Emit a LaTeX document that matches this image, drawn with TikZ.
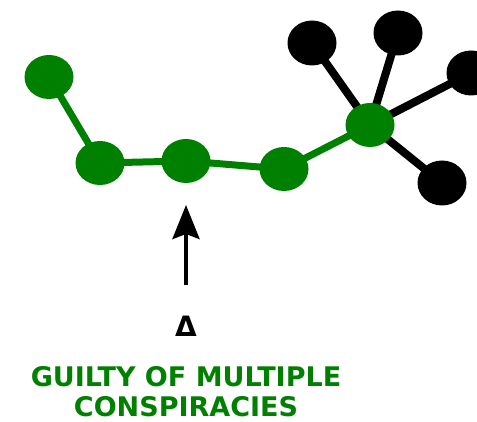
\documentclass[tikz,border=0pt]{standalone}
\usepackage{fontspec}
\setmainfont{DejaVu Sans}
\usetikzlibrary{shapes.geometric, arrows.meta, backgrounds}
\definecolor{netgreen}{RGB}{0,128,0}

\begin{document}
\begin{tikzpicture}[x=1pt, y=-1pt,
		member/.style={ellipse, fill=netgreen, minimum width=49pt, minimum height=44pt, inner sep=0pt},
		outsider/.style={ellipse, fill=black, minimum width=49pt, minimum height=45pt, inner sep=0pt},
		gedge/.style={draw=netgreen, line width=7pt},
		bedge/.style={draw=black, line width=8pt},
		caption/.style={text=netgreen, font=\bfseries\fontsize{27}{30}\selectfont, align=center, inner sep=0pt},
		>=Stealth
		]
		\useasboundingbox (0,0) rectangle (477,422);
		
		% chain of members
		\foreach \x/\y [count=\i from 1] in {49/77, 100/163, 186/161, 284/169, 370/125}
		\node[member] (g\i) at (\x,\y) {};
		
		% outsiders around the hub
		\foreach \x/\y [count=\i from 1] in {312/43, 398/33, 471/73, 442/183}
		\node[outsider] (b\i) at (\x,\y) {};
		
		\begin{scope}[on background layer]
			\foreach \i in {1,...,4} {
				\pgfmathtruncatemacro{\next}{add(\i,1)}
				\draw[gedge] (g\i.center) -- (g\next.center);
			}
			\foreach \i in {1,...,4}
			\draw[bedge] (g5.center) -- (b\i.center);
		\end{scope}
		
		\coordinate (tail) at (186, 285);
		\coordinate (head) at (186, 205);
		\draw[-{Stealth[length=34pt, width=27pt, inset=5pt]}, line width=4pt] (tail) -- (head);
		
		\node[font=\bfseries\fontsize{28}{30}\selectfont] (delta) at (186, 326) {Δ};
		\node[caption] (verdict) at (186, 392) {GUILTY OF MULTIPLE\\CONSPIRACIES};
\end{tikzpicture}
\end{document}
